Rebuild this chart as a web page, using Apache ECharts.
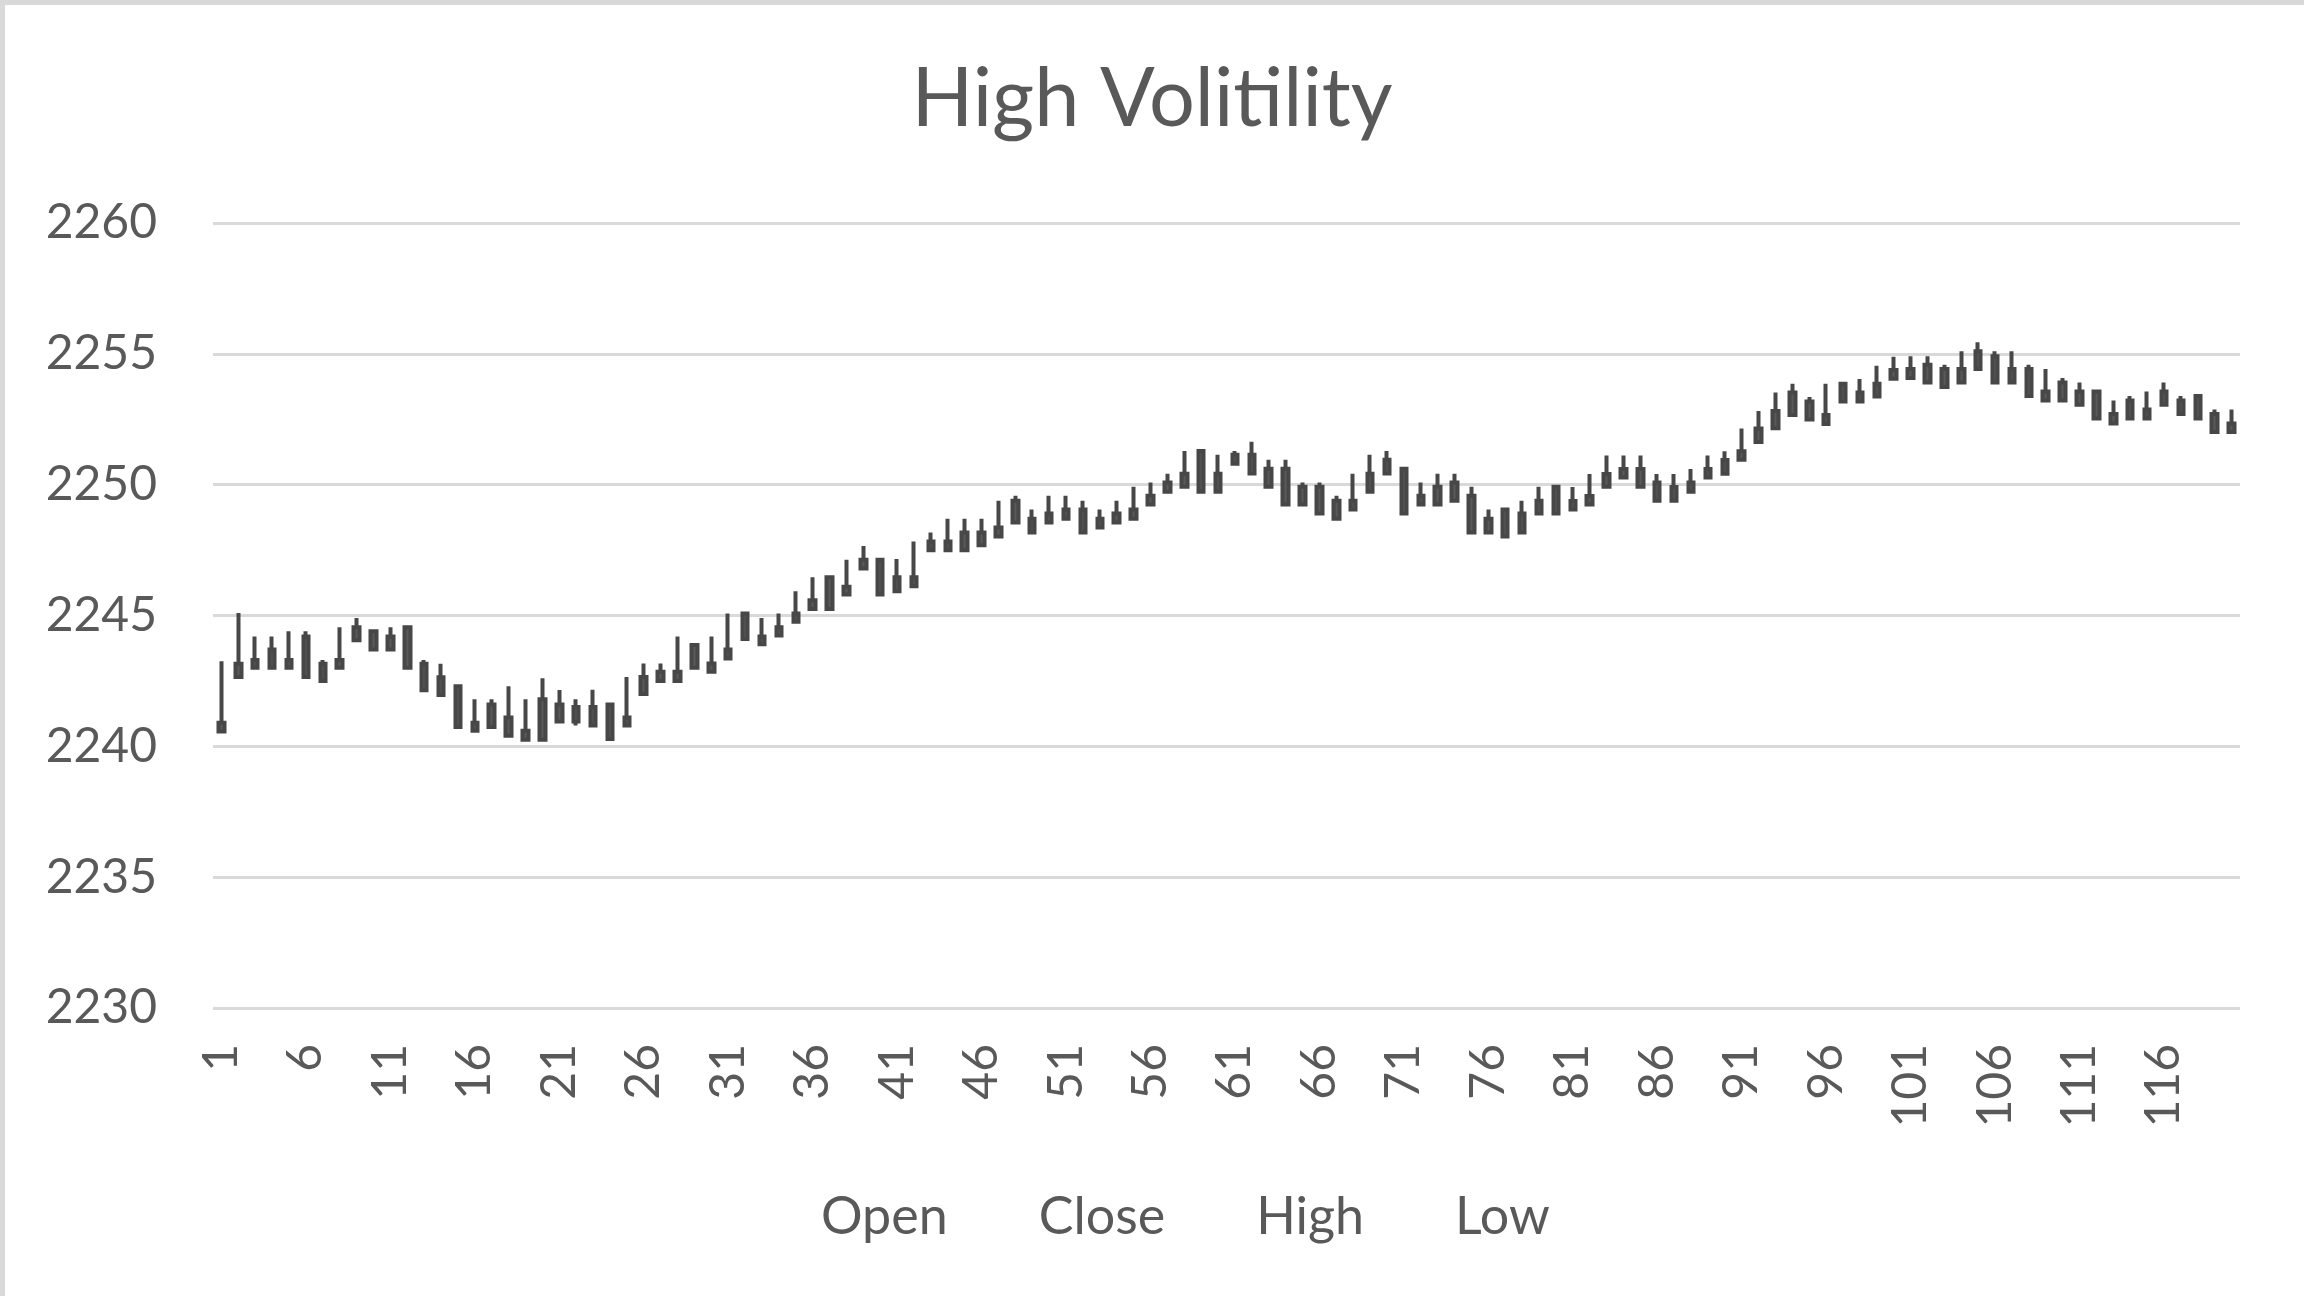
<!DOCTYPE html>
<html>
<head>
<meta charset="utf-8">
<title>High Volitility</title>
<script src="https://cdn.jsdelivr.net/npm/echarts@6/dist/echarts.min.js"></script>
<style>
  html, body { margin: 0; padding: 0; background: #fff; }
  #chart { position: absolute; left: 0; top: 0; width: 2304px; height: 1296px; }
  .edge { position: absolute; background: #d9d9d9; pointer-events: none; }
</style>
</head>
<body>
<div id="chart"></div>
<div class="edge" style="left:0;top:0;width:2304px;height:5px"></div>
<div class="edge" style="left:0;top:0;width:5px;height:1296px"></div>
<script>
// one value per day (1..120)
const days = Array.from({ length: 120 }, (_, i) => String(i + 1))

const opens = [
  2240.57, 2243.16, 2243.0, 2243.0, 2243.0, 2244.2, 2243.16, 2243.0, 2244.05, 2244.4,
  2243.7, 2244.55, 2243.16, 2242.64, 2242.3, 2240.6, 2240.74, 2241.1, 2240.6, 2240.25,
  2241.6, 2240.95, 2240.8, 2241.6, 2240.8, 2242.0, 2242.5, 2242.5, 2243.0, 2243.17,
  2243.36, 2244.1, 2244.2, 2244.24, 2244.76, 2245.25, 2245.25, 2245.8, 2246.8, 2247.13,
  2245.93, 2246.12, 2247.49, 2247.83, 2247.49, 2248.17, 2248.02, 2248.55, 2248.7, 2248.55,
  2248.7, 2249.05, 2248.36, 2248.55, 2248.7, 2249.24, 2249.73, 2249.92, 2249.73, 2250.42,
  2250.8, 2251.14, 2250.61, 2250.61, 2249.24, 2249.92, 2249.39, 2249.05, 2249.73, 2250.43,
  2250.61, 2249.24, 2249.24, 2249.39, 2249.58, 2248.7, 2248.02, 2248.17, 2248.9, 2248.9,
  2249.05, 2249.24, 2249.92, 2250.27, 2250.6, 2250.08, 2249.39, 2249.73, 2250.27, 2250.42,
  2250.95, 2251.63, 2252.16, 2252.66, 2253.18, 2252.32, 2253.18, 2253.18, 2253.37, 2254.05,
  2254.08, 2254.58, 2253.73, 2253.9, 2254.42, 2254.91, 2254.42, 2254.42, 2253.22, 2253.22,
  2253.56, 2253.56, 2252.34, 2252.53, 2252.53, 2253.05, 2253.22, 2253.39, 2252.7, 2252.34
]
const closes = [
  2240.9, 2242.65, 2243.3, 2243.7, 2243.3, 2242.65, 2242.5, 2243.3, 2244.55, 2243.7,
  2244.2, 2243.0, 2242.14, 2241.96, 2240.74, 2240.9, 2241.6, 2240.4, 2240.25, 2241.8,
  2240.95, 2241.5, 2241.5, 2240.28, 2241.1, 2242.65, 2242.85, 2242.85, 2243.87, 2242.85,
  2243.7, 2245.08, 2243.9, 2244.55, 2245.08, 2245.58, 2246.46, 2246.1, 2247.13, 2245.8,
  2246.46, 2246.46, 2247.83, 2247.49, 2248.17, 2247.68, 2248.36, 2249.39, 2248.17, 2248.9,
  2249.05, 2248.17, 2248.7, 2248.9, 2249.05, 2249.58, 2250.08, 2250.42, 2251.29, 2249.73,
  2251.14, 2250.43, 2249.92, 2249.24, 2249.92, 2248.9, 2248.7, 2249.39, 2250.42, 2250.95,
  2248.9, 2249.58, 2249.92, 2250.08, 2248.17, 2248.17, 2249.05, 2248.9, 2249.39, 2249.92,
  2249.38, 2249.57, 2250.41, 2250.6, 2249.92, 2249.39, 2249.91, 2250.08, 2250.6, 2250.94,
  2251.28, 2252.15, 2252.82, 2253.52, 2252.49, 2252.66, 2253.86, 2253.52, 2253.86, 2254.38,
  2254.42, 2253.9, 2254.42, 2254.42, 2255.1, 2253.9, 2253.9, 2253.39, 2253.56, 2253.9,
  2253.05, 2252.53, 2252.7, 2253.22, 2252.87, 2253.56, 2252.7, 2252.53, 2252.01, 2252.01
]
const highs = [
  2243.25, 2245.1, 2244.2, 2244.2, 2244.4, 2244.4, 2243.3, 2244.55, 2244.9, 2244.4,
  2244.55, 2244.55, 2243.3, 2243.16, 2242.3, 2241.8, 2241.8, 2242.3, 2241.8, 2242.6,
  2242.15, 2241.8, 2242.16, 2241.6, 2242.65, 2243.17, 2243.17, 2244.2, 2243.87, 2244.2,
  2245.08, 2245.08, 2244.9, 2245.08, 2245.93, 2246.46, 2246.46, 2247.13, 2247.66, 2247.13,
  2247.16, 2247.83, 2248.17, 2248.7, 2248.7, 2248.7, 2249.39, 2249.58, 2249.05, 2249.58,
  2249.58, 2249.39, 2249.05, 2249.39, 2249.92, 2250.08, 2250.42, 2251.29, 2251.29, 2251.14,
  2251.29, 2251.64, 2250.95, 2250.95, 2250.08, 2250.08, 2249.58, 2250.42, 2251.14, 2251.29,
  2250.61, 2250.08, 2250.42, 2250.42, 2249.92, 2249.05, 2249.05, 2249.39, 2249.92, 2249.92,
  2249.91, 2250.41, 2251.11, 2251.11, 2251.11, 2250.41, 2250.41, 2250.6, 2251.11, 2251.28,
  2252.15, 2252.82, 2253.52, 2253.86, 2253.35, 2253.86, 2253.86, 2254.04, 2254.54, 2254.89,
  2254.91, 2254.91, 2254.58, 2255.1, 2255.44, 2255.1, 2255.1, 2254.58, 2254.42, 2254.08,
  2253.9, 2253.56, 2253.22, 2253.39, 2253.56, 2253.9, 2253.39, 2253.39, 2252.87, 2252.87
]
const lows = [
  2240.57, 2242.65, 2243.0, 2243.0, 2243.0, 2242.65, 2242.5, 2243.0, 2244.05, 2243.7,
  2243.7, 2243.0, 2242.14, 2241.96, 2240.74, 2240.6, 2240.74, 2240.4, 2240.25, 2240.25,
  2240.95, 2240.8, 2240.8, 2240.28, 2240.8, 2242.0, 2242.5, 2242.5, 2243.0, 2242.85,
  2243.36, 2244.1, 2243.9, 2244.24, 2244.76, 2245.25, 2245.25, 2245.8, 2246.8, 2245.8,
  2245.93, 2246.12, 2247.49, 2247.49, 2247.49, 2247.68, 2248.02, 2248.55, 2248.17, 2248.55,
  2248.7, 2248.17, 2248.36, 2248.55, 2248.7, 2249.24, 2249.73, 2249.92, 2249.73, 2249.73,
  2250.8, 2250.43, 2249.92, 2249.24, 2249.24, 2248.9, 2248.7, 2249.05, 2249.73, 2250.43,
  2248.9, 2249.24, 2249.24, 2249.39, 2248.17, 2248.17, 2248.02, 2248.17, 2248.9, 2248.9,
  2249.05, 2249.24, 2249.92, 2250.27, 2249.92, 2249.39, 2249.39, 2249.73, 2250.27, 2250.42,
  2250.95, 2251.63, 2252.16, 2252.66, 2252.49, 2252.32, 2253.18, 2253.18, 2253.37, 2254.05,
  2254.08, 2253.9, 2253.73, 2253.9, 2254.42, 2253.9, 2253.9, 2253.39, 2253.22, 2253.22,
  2253.05, 2252.53, 2252.34, 2252.53, 2252.53, 2253.05, 2252.7, 2252.53, 2252.01, 2252.01
]

const seriesNames = ['Open', 'Close', 'High', 'Low']

const FONT = 'Lato'
const TEXT_COLOR = '#595959'

const chart = echarts.init(document.getElementById('chart'))

// candlestick wants [open, close, low, high]
const ohlc = days.map((d, i) => [opens[i], closes[i], lows[i], highs[i]])

// the four plain series only carry the legend, like the stock chart they come from
const hidden = [opens, closes, highs, lows].map((values, k) => ({
  name: seriesNames[k],
  type: 'line',
  data: values,
  showSymbol: false,
  silent: true,
  lineStyle: { opacity: 0 },
  itemStyle: { color: TEXT_COLOR }
}))

chart.setOption({
  animation: false,
  textStyle: { fontFamily: FONT },
  title: {
    text: 'High Volitility',
    left: 'center',
    top: 54,
    textStyle: { fontFamily: FONT, fontSize: 81, fontWeight: 'normal', color: TEXT_COLOR }
  },
  legend: {
    data: seriesNames,
    left: 791,
    top: 1186,
    icon: 'none',
    itemWidth: 20,
    itemGap: 66,
    selectedMode: false,
    textStyle: { fontFamily: FONT, fontSize: 52, color: TEXT_COLOR }
  },
  grid: { left: 213, right: 64, top: 223, bottom: 288 },
  xAxis: {
    type: 'category',
    data: days,
    boundaryGap: true,
    axisLine: { show: false },
    axisTick: { show: false },
    axisLabel: {
      interval: 4,
      rotate: 90,
      margin: 36,
      fontFamily: FONT,
      fontSize: 48,
      color: TEXT_COLOR
    }
  },
  yAxis: {
    type: 'value',
    min: 2230,
    max: 2260,
    interval: 5,
    axisLine: { show: false },
    axisTick: { show: false },
    splitLine: { lineStyle: { color: '#d9d9d9', width: 3 } },
    axisLabel: {
      margin: 56,
      fontFamily: FONT,
      fontSize: 48,
      color: TEXT_COLOR,
      formatter: v => String(v)
    }
  },
  series: [
    {
      name: 'OHLC',
      type: 'candlestick',
      data: ohlc,
      barWidth: 6,
      silent: true,
      itemStyle: {
        color: '#5a5a5a',
        color0: '#5a5a5a',
        borderColor: '#474747',
        borderColor0: '#474747',
        borderWidth: 4
      }
    },
    ...hidden
  ]
})
</script>
</body>
</html>
